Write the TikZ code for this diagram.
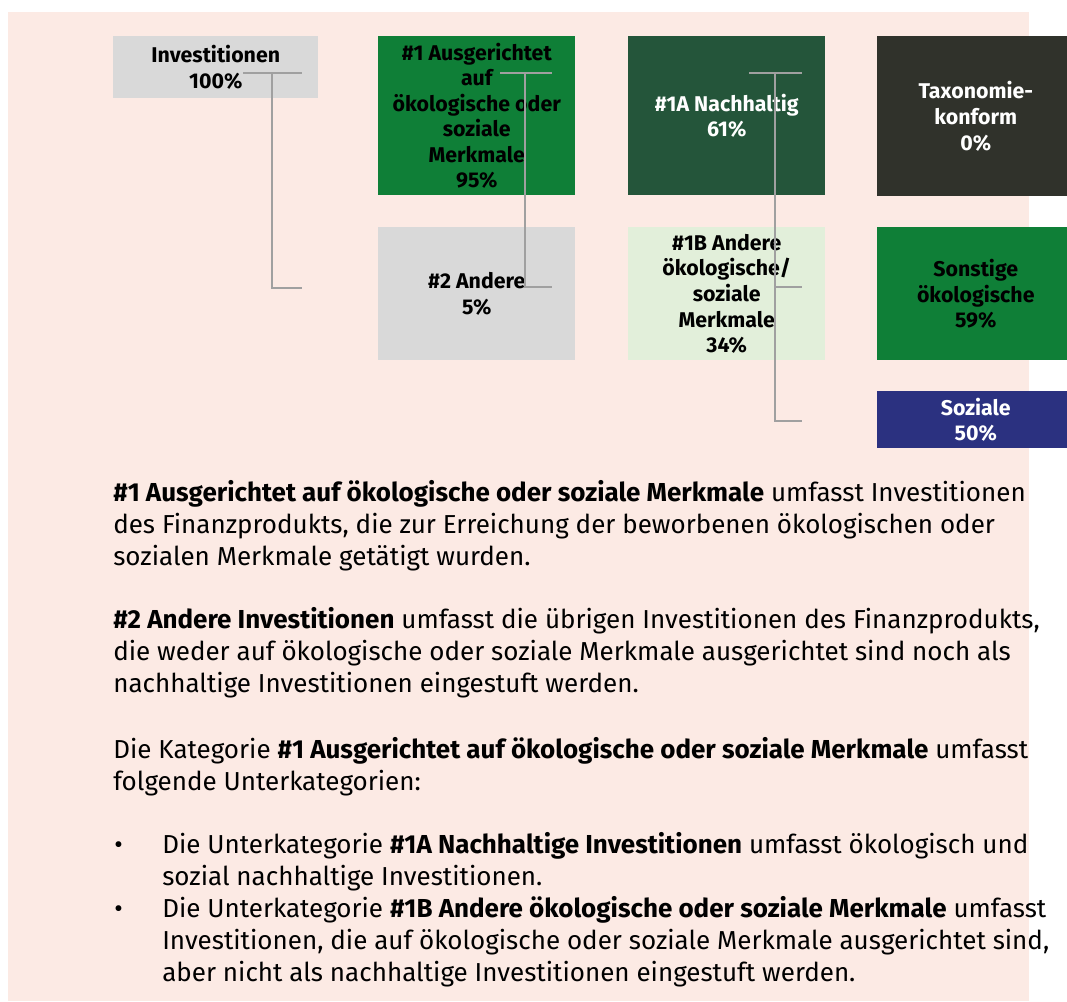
\documentclass[tikz,border=0pt]{standalone}
\usepackage{fontspec}
\setmainfont{Fira Sans}
\definecolor{bgpink}{HTML}{FCEAE4}
\definecolor{boxgray}{HTML}{D9D9D9}
\definecolor{esggreen}{HTML}{0F7F37}
\definecolor{darkgreen}{HTML}{24553A}
\definecolor{palegreen}{HTML}{E2EFDA}
\definecolor{taxdark}{HTML}{30322B}
\definecolor{navy}{HTML}{2B3180}
\definecolor{linegray}{HTML}{A0A0A0}
\tikzset{
  box/.style={anchor=north west, inner sep=0pt, align=center, minimum width=147.75pt,
    font=\bfseries\fontsize{16}{19.2}\selectfont},
  conn/.style={draw=linegray, line width=1.6pt},
  body/.style={anchor=base west, inner sep=0pt, align=left, font=\fontsize{19.5}{24}\selectfont}
}
\begin{document}
\begin{tikzpicture}[x=0.75pt,y=-0.75pt]
    \useasboundingbox (0,0) rectangle (1067,1001);
    \clip (0,0) rectangle (1067,1001);
    \fill[bgpink] (8,12) rectangle (1029,1001);
    % boxes
    \node[box, fill=boxgray, minimum width=153.75pt, minimum height=46.5pt] (inv) at (113,36) {Investitionen\\100\%};
    \node[box, fill=esggreen, minimum height=119.25pt] (a1) at (378,36) {\#1 Ausgerichtet\\auf\\ökologische oder\\soziale\\Merkmale\\95\%};
    \node[box, fill=boxgray, minimum height=99.75pt] (a2) at (378,227) {\#2 Andere\\5\%};
    \node[box, fill=darkgreen, text=white, minimum height=119.25pt] (n1a) at (628,36) {\#1A Nachhaltig\\61\%};
    \node[box, fill=palegreen, minimum height=99.75pt] (n1b) at (628,227) {\#1B Andere\\ökologische/\\soziale\\Merkmale\\34\%};
    \node[box, fill=taxdark, text=white, minimum height=120pt] (tax) at (877,36) {Taxonomie-\\konform\\0\%};
    \node[box, fill=esggreen, minimum height=99.75pt] (son) at (877,227) {Sonstige\\ökologische\\59\%};
    \node[box, fill=navy, text=white, minimum height=42.75pt] (soz) at (877,391) {Soziale\\50\%};
    % connectors
    \coordinate (inv-s) at (243,73);
    \coordinate (inv-t) at (302,73);
    \coordinate (inv-v) at (272,73);
    \coordinate (inv-b) at (302,288);
    \draw[conn] (inv-s) -- (inv-t);
    \draw[conn] (inv-v) |- (inv-b);
    \coordinate (a1-s) at (500,73);
    \coordinate (a1-t) at (552,73);
    \coordinate (a1-v) at (525,73);
    \coordinate (a1-b) at (552,287);
    \draw[conn] (a1-s) -- (a1-t);
    \draw[conn] (a1-v) |- (a1-b);
    \coordinate (n1a-s) at (749,73);
    \coordinate (n1a-t) at (802,73);
    \coordinate (n1a-v) at (775,73);
    \coordinate (n1a-m) at (802,287);
    \coordinate (n1a-b) at (802,421);
    \draw[conn] (n1a-s) -- (n1a-t);
    \draw[conn] (n1a-v) |- (n1a-b);
    \draw[conn] (n1a-v |- n1a-m) -- (n1a-m);
    % text (anchored at the baseline of the last line)
    \node[body] (p1) at (113,565.5) {\textbf{\#1 Ausgerichtet auf ökologische oder soziale Merkmale} umfasst Investitionen\\des Finanzprodukts, die zur Erreichung der beworbenen ökologischen oder\\sozialen Merkmale getätigt wurden.};
    \node[body] (p2) at (113,692) {\textbf{\#2 Andere Investitionen} umfasst die übrigen Investitionen des Finanzprodukts,\\die weder auf ökologische oder soziale Merkmale ausgerichtet sind noch als\\nachhaltige Investitionen eingestuft werden.};
    \node[body] (p3) at (113,790) {Die Kategorie \textbf{\#1 Ausgerichtet auf ökologische oder soziale Merkmale} umfasst\\folgende Unterkategorien:};
    \node[body] (d1) at (114,853) {•};
    \node[body] (l1) at (162,885) {Die Unterkategorie \textbf{\#1A Nachhaltige Investitionen} umfasst ökologisch und\\sozial nachhaltige Investitionen.};
    \node[body] (d2) at (114,917) {•};
    \node[body] (l2) at (162,981) {Die Unterkategorie \textbf{\#1B Andere ökologische oder soziale Merkmale} umfasst\\Investitionen, die auf ökologische oder soziale Merkmale ausgerichtet sind,\\aber nicht als nachhaltige Investitionen eingestuft werden.};
\end{tikzpicture}
\end{document}
